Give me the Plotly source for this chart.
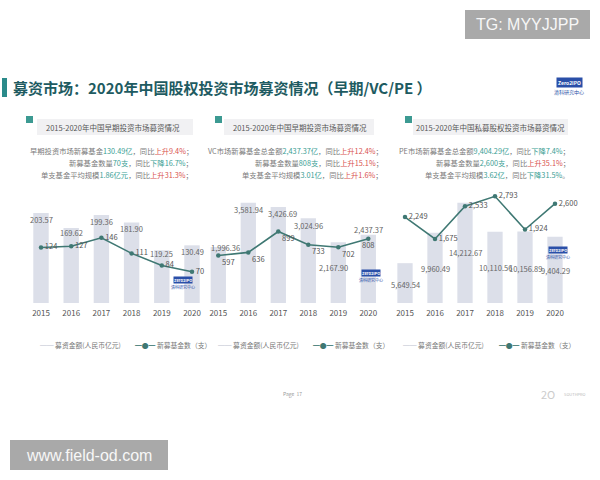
import plotly.graph_objects as go

# ---------------- data ----------------
years = [2015, 2016, 2017, 2018, 2019, 2020]
early_amount = [203.57, 169.62, 199.36, 181.90, 119.25, 130.49]
early_count = [124, 127, 146, 111, 84, 70]
vc_amount = [1996.36, 3581.94, 3426.69, 3024.96, 2167.90, 2437.37]
vc_count = [597, 636, 899, 733, 702, 808]
pe_amount = [5649.54, 9960.49, 14212.67, 10110.56, 10156.89, 9404.29]
pe_count = [2249, 1675, 2533, 2793, 1924, 2600]

panel_titles = ["2015-2020年中国早期投资市场募资情况",
                "2015-2020年中国早期投资市场募资情况",
                "2015-2020年中国私募股权投资市场募资情况"]
bar_name = "募资金额(人民币亿元)"
line_name = "新募基金数（支）"

W, H = 600, 480
def px(x): return x / W
def py(y): return 1 - y / H

FONT = "Noto Sans CJK SC, Noto Sans, sans-serif"
BAR_C = "#dcdfe9"
LINE_C = "#3f7873"
TEAL = "#3a9e94"
RED = "#d9534f"
GRAY = "#7a7a7a"

def fmt_amt(v):
    return f"{v:,.2f}"

def fmt_cnt(v):
    return f"{v:,}"

panels = [
    dict(amount=early_amount, count=early_count, xdom=(25.9, 207.1),
         yr_bar=255.7, yr_line=252.8,
         lab_dx=[0, 0, 0, 0, 0, 0], lab_dy=[-6, -4, -7, -6, -3, -6],
         line_pos=["middle right"] * 6),
    dict(amount=vc_amount, count=vc_count, xdom=(203.3, 383.3),
         yr_bar=4036, yr_line=1421,
         lab_dx=[7, 0, 4, 0, -5, 0], lab_dy=[0, -7, -6, -7, -25, 5],
         line_pos=["bottom right", "bottom right", "bottom right", "bottom right",
                   "bottom right", "bottom center"]),
    dict(amount=pe_amount, count=pe_count, xdom=(390, 570),
         yr_bar=16028, yr_line=2958,
         lab_dx=[0, 0, 0, 0, 0, 0], lab_dy=[-21, -36, -50, -36, -37, -34],
         line_pos=["middle right"] * 6),
]

ydom = (py(303), py(190))

fig = go.Figure()
annotations = []
shapes = []
layout_axes = {}

def note(x, y, text, size, color, xanchor="center", yanchor="middle", family=FONT, **kw):
    d = dict(xref="paper", yref="paper", x=px(x), y=py(y), text=text, showarrow=False,
             xanchor=xanchor, yanchor=yanchor, font=dict(size=size, color=color, family=family))
    d.update(kw)
    annotations.append(d)

for i, p in enumerate(panels):
    xa = "x" if i == 0 else f"x{i+1}"
    yb = "y" if i == 0 else f"y{2*i+1}"
    yl = f"y{2*i+2}"
    fig.add_trace(go.Bar(x=years, y=p["amount"], xaxis=xa, yaxis=yb,
                         marker=dict(color=BAR_C, line=dict(width=0)),
                         showlegend=False, hoverinfo="skip"))
    fig.add_trace(go.Scatter(x=years, y=p["count"], xaxis=xa, yaxis=yl,
                             mode="lines+markers+text",
                             line=dict(color=LINE_C, width=1.6),
                             marker=dict(color=LINE_C, size=4.5),
                             text=[fmt_cnt(v) for v in p["count"]],
                             textposition=p["line_pos"],
                             textfont=dict(size=7.5, color="#555555", family=FONT),
                             cliponaxis=False,
                             showlegend=False, hoverinfo="skip"))
    xkey = "xaxis" if i == 0 else f"xaxis{i+1}"
    ybkey = "yaxis" if i == 0 else f"yaxis{2*i+1}"
    ylkey = f"yaxis{2*i+2}"
    layout_axes[xkey] = dict(domain=[px(p["xdom"][0]), px(p["xdom"][1])],
                             anchor=yb, type="linear", range=[2014.5, 2020.5],
                             tickmode="array", tickvals=years, ticktext=[str(y) for y in years],
                             showgrid=False, zeroline=False, showline=False,
                             ticks="", tickfont=dict(size=8, color="#555555", family=FONT),
                             ticklabelstandoff=4, fixedrange=True)
    layout_axes[ybkey] = dict(domain=list(ydom), anchor=xa, range=[0, p["yr_bar"]],
                              visible=False, fixedrange=True)
    layout_axes[ylkey] = dict(domain=list(ydom), anchor=xa, overlaying=yb,
                              range=[0, p["yr_line"]], visible=False, fixedrange=True)
    for j, (yr, v) in enumerate(zip(years, p["amount"])):
        annotations.append(dict(x=yr, y=v, xref=xa, yref=yb, text=fmt_amt(v),
                                showarrow=False, xshift=p["lab_dx"][j],
                                yshift=p["lab_dy"][j], xanchor="center", yanchor="middle",
                                font=dict(size=7.5, color="#666666", family=FONT)))

# ---------------- slide decoration ----------------
shapes.append(dict(type="rect", xref="paper", yref="paper", x0=px(2), x1=px(7),
                   y0=py(97), y1=py(78), fillcolor="#2b8a8a", line=dict(width=0)))
note(11, 87, "<b>募资市场：2020年中国股权投资市场募资情况（早期/VC/PE ）</b>", 15, "#1e5b61",
     xanchor="left")
# top-right logo
note(569, 82, "<b>Zero2IPO</b>", 5, "white", bgcolor="#2a4fa8", borderpad=1)
note(569, 92, "清科研究中心", 5, "#2a4fa8")

# panel headers
headers = [dict(sq=(26, 116), box=(37, 193), cx=113),
           dict(sq=(215, 116), box=(224, 374), cx=300),
           dict(sq=(405, 116), box=(413, 568), cx=490)]
for h, t in zip(headers, panel_titles):
    shapes.append(dict(type="rect", xref="paper", yref="paper", x0=px(h["box"][0]),
                       x1=px(h["box"][1]), y0=py(135), y1=py(119),
                       fillcolor="#f1f1f3", line=dict(width=0)))
    shapes.append(dict(type="rect", xref="paper", yref="paper", x0=px(h["sq"][0]),
                       x1=px(h["sq"][0] + 7), y0=py(h["sq"][1] + 7), y1=py(h["sq"][1]),
                       fillcolor="#3c9a92", line=dict(width=0)))
    note(h["cx"], 127, t, 7.5, "#555555")

def col(s, c):
    return f"<span style='color:{c}'>{s}</span>"

desc = [
    (195, ["早期投资市场新募基金" + col("130.49亿", TEAL) + "，同比" + col("上升9.4%", RED) + "；",
           "新募基金数量" + col("70支", TEAL) + "，同比" + col("下降16.7%", TEAL) + "；",
           "单支基金平均规模" + col("1.86亿元", TEAL) + "，同比" + col("上升31.3%", RED) + "；"]),
    (385, ["VC市场新募基金总金额" + col("2,437.37亿", TEAL) + "，同比" + col("上升12.4%", RED) + "；",
           "新募基金数量" + col("808支", TEAL) + "，同比" + col("上升15.1%", RED) + "；",
           "单支基金平均规模" + col("3.01亿", TEAL) + "，同比" + col("上升1.6%", RED) + "；"]),
    (572, ["PE市场新募基金总金额" + col("9,404.29亿", TEAL) + "，同比" + col("下降7.4%", TEAL) + "；",
           "新募基金数量" + col("2,600支", TEAL) + "，同比" + col("上升35.1%", RED) + "；",
           "单支基金平均规模" + col("3.62亿", TEAL) + "，同比" + col("下降31.5%", TEAL) + "。"]),
]
for xr, lines in desc:
    for k, s in enumerate(lines):
        note(xr, 151 + 12 * k, s, 7.3, GRAY, xanchor="right")

# legends
legend_x = [(38, 133), (216, 311), (401, 497)]
for a, b in legend_x:
    note(a, 345, col("━━", "#d3d5de") + " " + bar_name, 6.8, "#777777", xanchor="left")
    note(b, 345, col("━●━", LINE_C) + " " + line_name, 6.8, "#777777", xanchor="left")

# small in-chart logos
for lx, ly in [(183, 280), (371, 273), (558, 250)]:
    note(lx, ly, "<b>Zero2IPO</b>", 4, "white", bgcolor="#2a4fa8", borderpad=0)
    note(lx, ly + 7, "清科研究中心", 4, "#2a4fa8")

# footer
note(292, 394, "Page  17", 5, "#999999")
note(548, 394, "2O", 11, "#cccccc")
note(575, 394, "SOUTHPRO", 4, "#bbbbbb")

# watermarks
shapes.append(dict(type="rect", xref="paper", yref="paper", x0=px(465), x1=px(590),
                   y0=py(39), y1=py(10), fillcolor="#a9a9a9", line=dict(width=0)))
note(527.5, 24.5, "TG: MYYJJPP", 16, "#f7f7f7", family="Liberation Sans, Arial")
shapes.append(dict(type="rect", xref="paper", yref="paper", x0=px(10), x1=px(168),
                   y0=py(470), y1=py(440), fillcolor="#a9a9a9", line=dict(width=0)))
note(89, 455, "www.field-od.com", 16, "#f7f7f7", family="Liberation Sans, Arial")

fig.update_layout(
    width=W, height=H,
    margin=dict(l=0, r=0, t=0, b=0),
    paper_bgcolor="white", plot_bgcolor="rgba(0,0,0,0)",
    bargap=0.49, showlegend=False,
    font=dict(family=FONT),
    annotations=annotations, shapes=shapes,
    **layout_axes,
)

fig.write_html("out.html", config={"displayModeBar": False},
               post_script="document.body.style.margin='0';")
